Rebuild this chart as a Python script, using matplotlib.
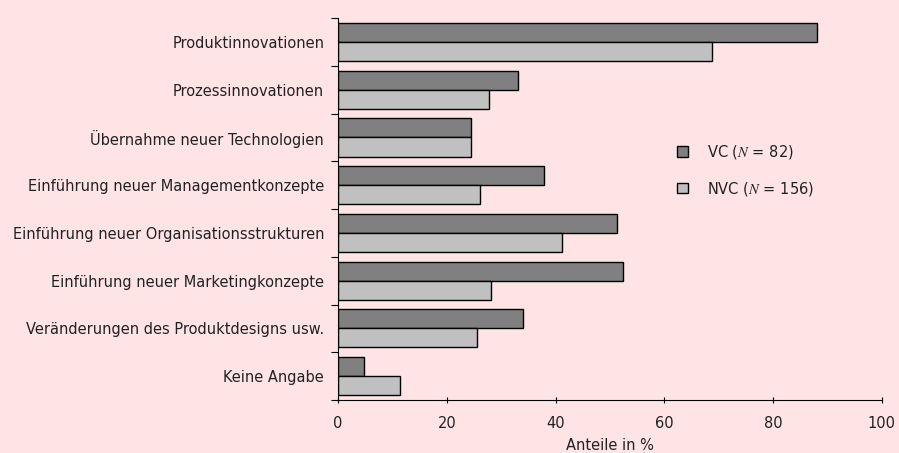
import matplotlib.pyplot as plt
from matplotlib.patches import Patch

categories = ["Produktinnovationen", "Prozessinnovationen", "Übernahme neuer Technologien",
              "Einführung neuer Managementkonzepte", "Einführung neuer Organisationsstrukturen",
              "Einführung neuer Marketingkonzepte", "Veränderungen des Produktdesigns usw.",
              "Keine Angabe"]
vc = [88.1, 33.1, 24.4, 37.8, 51.3, 52.4, 34.1, 4.8]
nvc = [68.7, 27.7, 24.4, 26.1, 41.1, 28.1, 25.6, 11.4]
xticks = [0, 20, 40, 60, 80, 100]

bg = "#ffe4e6"
plt.rcParams["font.family"] = ["DejaVu Sans"]
plt.rcParams["mathtext.fontset"] = "stix"
fs = 10.5

fig = plt.figure(figsize=(8.99, 4.53), dpi=100, facecolor=bg)
ax = fig.add_axes([0.376, 0.117, 0.605, 0.843], facecolor=bg)

centers = [i + 0.5 for i in range(len(categories))]
ax.barh([c - 0.2 for c in centers], vc, height=0.4, color="#808080",
        edgecolor="black", linewidth=1)
ax.barh([c + 0.2 for c in centers], nvc, height=0.4, color="#c0c0c0",
        edgecolor="black", linewidth=1)

ax.set_ylim(len(categories), 0)
ax.set_xlim(0, 100)
ax.set_yticks(range(len(categories) + 1))
ax.set_yticklabels([])
ax.set_yticks(centers, minor=True)
ax.set_yticklabels(categories, minor=True, fontsize=fs, color="#222222")
ax.tick_params(axis="y", which="minor", length=0, pad=10)
ax.tick_params(axis="y", which="major", length=5, direction="out")
ax.set_xticks(xticks)
ax.tick_params(axis="x", length=5, direction="inout", labelsize=fs, pad=9,
               labelcolor="#222222")
ax.spines["top"].set_visible(False)
ax.spines["right"].set_visible(False)
ax.set_xlabel("Anteile in %", fontsize=fs, labelpad=5, color="#222222")

handles = [Patch(facecolor="#808080", edgecolor="black"),
           Patch(facecolor="#c0c0c0", edgecolor="black")]
ax.legend(handles, ["VC ($N$ = 82)", "NVC ($N$ = 156)"], loc="upper left",
          bbox_to_anchor=(0.6, 0.708), frameon=False, fontsize=fs, labelcolor="#222222",
          handlelength=0.75, handleheight=0.75, handletextpad=1.3, labelspacing=1.3)

fig.savefig("out.png", dpi=100, facecolor=bg)
